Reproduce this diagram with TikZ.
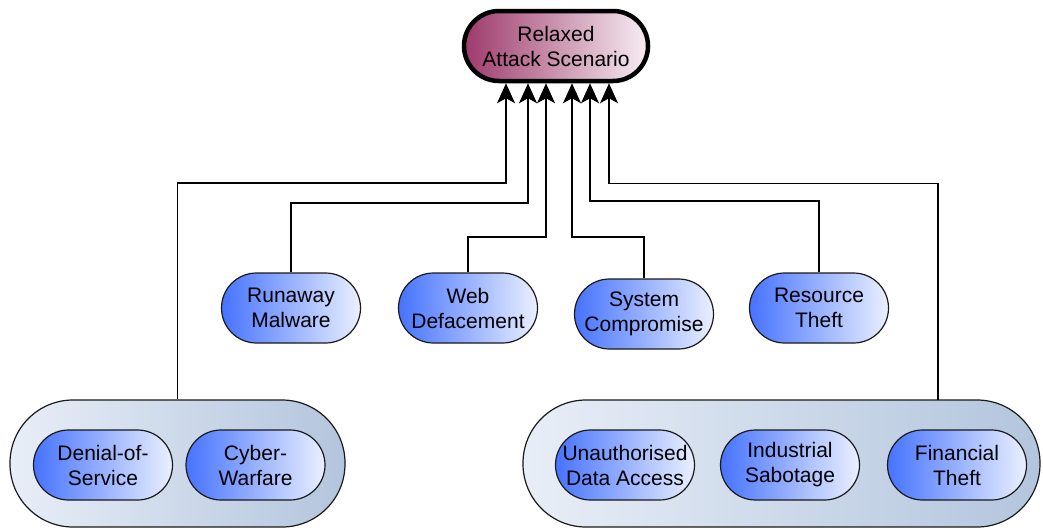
\documentclass[tikz,border=0pt]{standalone}
\usepackage{fontspec}
\setmainfont{Liberation Sans}
\usetikzlibrary{arrows.meta}
\definecolor{purpL}{HTML}{9E3A6C}
\definecolor{purpR}{HTML}{F7EEF3}
\definecolor{blueL}{HTML}{4673FF}
\definecolor{blueR}{HTML}{EAF0FF}
\definecolor{contL}{HTML}{E8EEF7}
\definecolor{contR}{HTML}{B3C5DD}
\definecolor{edge}{HTML}{1A1A1A}
\tikzset{
  lbl/.style={font=\fontsize{21}{25}\selectfont, align=center, text=black},
  topbox/.style={lbl, draw=black, line width=4.5pt, left color=purpL, right color=purpR,
     rounded corners=35pt, minimum width=184pt, minimum height=70pt, inner sep=0pt},
  leaf/.style={lbl, draw=edge, line width=1.2pt, left color=blueL, right color=blueR,
     rounded corners=35pt, minimum width=139pt, minimum height=70pt, inner sep=0pt},
  groupbox/.style={draw=edge, line width=1.2pt, left color=contL, right color=contR,
     rounded corners=63pt, minimum height=127pt, inner sep=0pt},
  arr/.style={draw=black, line width=1.4pt, -{Stealth[length=20pt,width=18pt,inset=5pt]}},
}
\begin{document}
\begin{tikzpicture}[x=1pt,y=-1pt]
\useasboundingbox (0,0) rectangle (1043,530);
% containers
\node[groupbox, minimum width=335pt] (g1) at (177.5,463.5) {};
\node[groupbox, minimum width=517pt] (g2) at (781.5,463.5) {};
\coordinate (g2top) at (938,400);
% top
\node[topbox, text depth=-2pt] (top) at (556,46) {Relaxed\\Attack Scenario};
% middle leaves
\node[leaf] (rm) at (291,308) {Runaway\\Malware};
\node[leaf] (wd) at (468,308) {Web\\Defacement};
\node[leaf] (sc) at (644,314) {System\\Compromise};
\node[leaf] (rt) at (819,308) {Resource\\Theft};
% bottom leaves
\node[leaf] (dos) at (103,465) {Denial-of-\\Service};
\node[leaf] (cw) at (255.5,465) {Cyber-\\Warfare};
\node[leaf] (uda) at (625,465) {Unauthorised\\Data Access};
\node[leaf] (is) at (790,465) {Industrial\\Sabotage};
\node[leaf] (ft) at (957,465) {Financial\\Theft};
% connectors
\draw[arr] (g1.north) -- ++(0,-216.5) -| ([xshift=-50pt]top.south);
\draw[arr] (rm.north) -- ++(0,-69.5) -| ([xshift=-28pt]top.south);
\draw[arr] (wd.north) -- ++(0,-35.5) -| ([xshift=-10pt]top.south);
\draw[arr] (sc.north) -- ++(0,-41.5) -| ([xshift=16pt]top.south);
\draw[arr] (rt.north) -- ++(0,-71.5) -| ([xshift=34pt]top.south);
\draw[arr] (g2top) -- ++(0,-216.5) -| ([xshift=53pt]top.south);
\end{tikzpicture}
\end{document}
